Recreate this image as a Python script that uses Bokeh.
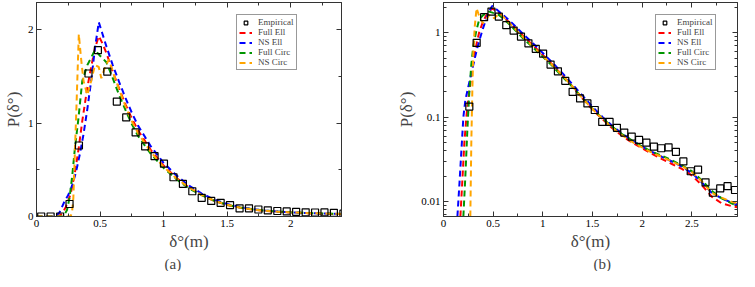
from bokeh.plotting import figure
from bokeh.layouts import row
from bokeh.models import (ColumnDataSource, Range1d, LinearAxis, LogAxis, Legend, LegendItem,
                          SingleIntervalTicker, FixedTicker, NumeralTickFormatter,
                          CustomJSTickFormatter)
from bokeh.embed import file_html
from bokeh.resources import INLINE

# ---------------- data ----------------
emp_x = [0.037, 0.111, 0.186, 0.260, 0.334, 0.409, 0.483, 0.557, 0.632, 0.706,
         0.780, 0.855, 0.929, 1.003, 1.078, 1.152, 1.226, 1.300, 1.375, 1.449,
         1.523, 1.598, 1.672, 1.746, 1.820, 1.895, 1.969, 2.043, 2.118, 2.192,
         2.266, 2.340, 2.415, 2.489, 2.563, 2.638, 2.712, 2.786, 2.860, 2.935]
emp_y = [0, 0, 0, 0.134, 0.76, 1.53, 1.78, 1.55, 1.23, 1.06,
         0.90, 0.75, 0.645, 0.565, 0.42, 0.35, 0.27, 0.20, 0.167, 0.146,
         0.122, 0.088, 0.088, 0.075, 0.066, 0.059, 0.054, 0.050, 0.045, 0.043,
         0.044, 0.039, 0.030, 0.023, 0.024, 0.017, 0.0128, 0.0144, 0.0153, 0.0138]

tail_x = [1.10, 1.20, 1.30, 1.40, 1.50, 1.60, 1.70, 1.80, 1.90, 2.00,
          2.10, 2.20, 2.30, 2.40, 2.50, 2.60, 2.70, 2.80, 2.90, 2.96]

full_ell_x = [0.0, 0.13, 0.17, 0.19, 0.21, 0.23, 0.25, 0.27, 0.30, 0.333, 0.36, 0.40, 0.43,
              0.46, 0.49, 0.52, 0.55, 0.60, 0.65, 0.70, 0.75, 0.80, 0.90, 1.00] + tail_x
full_ell_y = [0, 0, 0.0067, 0.018, 0.05, 0.10, 0.17, 0.25, 0.45, 0.74, 1.02, 1.38, 1.60,
              1.80, 1.93, 1.85, 1.75, 1.55, 1.37, 1.20, 1.05, 0.92, 0.71, 0.545,
              0.415, 0.31, 0.23, 0.166, 0.123, 0.095, 0.074, 0.060, 0.050, 0.043,
              0.037, 0.032, 0.028, 0.0245, 0.0205, 0.0158, 0.0115, 0.0096, 0.0089, 0.0086]

ns_ell_x = [0.0, 0.10, 0.14, 0.16, 0.18, 0.20, 0.22, 0.25, 0.28, 0.31, 0.34, 0.37, 0.40,
            0.43, 0.46, 0.49, 0.52, 0.55, 0.60, 0.65, 0.70, 0.75, 0.80, 0.90, 1.00] + tail_x
ns_ell_y = [0, 0, 0.0067, 0.016, 0.04, 0.10, 0.16, 0.23, 0.33, 0.47, 0.66, 0.88, 1.15,
            1.45, 1.80, 2.08, 1.95, 1.82, 1.62, 1.44, 1.27, 1.11, 0.97, 0.75, 0.575,
            0.44, 0.33, 0.245, 0.18, 0.133, 0.101, 0.079, 0.064, 0.053, 0.045,
            0.039, 0.034, 0.030, 0.026, 0.022, 0.017, 0.0128, 0.011, 0.0098, 0.0093]

full_circ_x = [0.0, 0.16, 0.20, 0.22, 0.24, 0.26, 0.28, 0.30, 0.33, 0.36, 0.40, 0.43,
               0.46, 0.50, 0.55, 0.60, 0.65, 0.70, 0.75, 0.80, 0.90, 1.00] + tail_x
full_circ_y = [0, 0, 0.0067, 0.02, 0.07, 0.20, 0.42, 0.70, 1.05, 1.45, 1.62, 1.70,
               1.78, 1.72, 1.65, 1.48, 1.30, 1.14, 0.99, 0.86, 0.67, 0.52,
               0.40, 0.30, 0.228, 0.168, 0.126, 0.097, 0.077, 0.063, 0.053, 0.045,
               0.039, 0.035, 0.031, 0.027, 0.023, 0.018, 0.0135, 0.011, 0.0096, 0.0090]

ns_circ_x = [0.0, 0.25, 0.27, 0.28, 0.29, 0.30, 0.315, 0.333, 0.35, 0.37, 0.40, 0.43,
             0.46, 0.49, 0.51, 0.54, 0.57, 0.60, 0.65, 0.70, 0.75, 0.80, 0.90, 1.00] + tail_x
ns_circ_y = [0, 0, 0.0067, 0.05, 0.20, 0.60, 1.20, 1.95, 1.70, 1.45, 1.30, 1.45,
             1.62, 1.60, 1.48, 1.60, 1.68, 1.55, 1.36, 1.18, 1.02, 0.89, 0.69, 0.53,
             0.41, 0.31, 0.23, 0.168, 0.125, 0.096, 0.075, 0.061, 0.051, 0.044,
             0.038, 0.034, 0.030, 0.0265, 0.0225, 0.0175, 0.0128, 0.0112, 0.0100, 0.0096]

series = [("Full Ell", full_ell_x, full_ell_y, "#ff0000"),
          ("NS Ell", ns_ell_x, ns_ell_y, "#0000ff"),
          ("Full Circ", full_circ_x, full_circ_y, "#009600"),
          ("NS Circ", ns_circ_x, ns_circ_y, "#ffa500")]

FONT = "Liberation Serif"
AX = "#333333"
BLANK = CustomJSTickFormatter(code="return ''")


def style_axis(ax, labels=True):
    ax.axis_line_color = AX
    ax.major_tick_line_color = AX
    ax.minor_tick_line_color = AX
    ax.major_tick_in = 5
    ax.major_tick_out = 0
    ax.minor_tick_in = 3
    ax.minor_tick_out = 0
    ax.major_label_text_font = FONT
    ax.major_label_text_color = "black"
    ax.major_label_text_font_size = "11px"
    if labels:
        ax.major_label_standoff = 3
    else:
        ax.formatter = BLANK
        ax.major_label_standoff = 0
    ax.axis_label_text_font = FONT
    ax.axis_label_text_font_size = "17px"
    ax.axis_label_text_font_style = "normal"
    ax.axis_label_standoff = 2


def make_panel(caption, width, xr, yr, log, border_left, border_right, legend_loc, caption_offset):
    p = figure(width=width, height=271, output_backend="svg", toolbar_location=None,
               x_range=Range1d(*xr), y_range=Range1d(*yr),
               y_axis_type="log" if log else "linear",
               title=caption, title_location="below",
               min_border_left=border_left, min_border_right=border_right,
               min_border_top=2, min_border_bottom=0)
    p.title.align = "left"
    p.title.text_font = FONT
    p.title.text_font_size = "15px"
    p.title.text_font_style = "normal"
    p.title.offset = caption_offset
    p.title.standoff = 0
    p.title.vertical_align = "bottom"
    p.xgrid.grid_line_color = None
    p.ygrid.grid_line_color = None
    p.outline_line_color = AX
    p.background_fill_color = "white"
    p.border_fill_color = "white"

    xt = SingleIntervalTicker(interval=0.5, num_minor_ticks=2)
    if log:
        yt = FixedTicker(ticks=[0.01, 0.1, 1.0],
                         minor_ticks=[0.007, 0.008, 0.009, 0.02, 0.03, 0.04, 0.05, 0.06, 0.07, 0.08, 0.09,
                                      0.2, 0.3, 0.4, 0.5, 0.6, 0.7, 0.8, 0.9, 2.0])
    else:
        yt = SingleIntervalTicker(interval=1.0, num_minor_ticks=2)

    p.xaxis.ticker = xt
    p.yaxis.ticker = yt
    p.xaxis.formatter = NumeralTickFormatter(format="0.[0]")
    p.yaxis.formatter = NumeralTickFormatter(format="0.[00]")
    p.xaxis.axis_label = "δ°(m)"
    p.yaxis.axis_label = "P(δ°)"
    style_axis(p.xaxis[0])
    style_axis(p.yaxis[0])

    top = LinearAxis(ticker=xt)
    style_axis(top, labels=False)
    p.add_layout(top, "above")
    right = LogAxis(ticker=yt) if log else LinearAxis(ticker=yt)
    style_axis(right, labels=False)
    p.add_layout(right, "right")

    items = []
    rends = []
    for name, xs, ys, col in series:
        pts = [(a, b) for a, b in zip(xs, ys) if (b > 0 or not log)]
        src = ColumnDataSource(dict(x=[q[0] for q in pts], y=[q[1] for q in pts]))
        r = p.line("x", "y", source=src, line_color=col, line_width=2, line_dash="6 4")
        rends.append((name, r))
    epts = [(a, b) for a, b in zip(emp_x, emp_y) if (b > 0 or not log)]
    esrc = ColumnDataSource(dict(x=[q[0] for q in epts], y=[q[1] for q in epts]))
    sq = p.scatter("x", "y", source=esrc, marker="square", size=7, fill_color=None,
                   line_color="black", line_width=1.2)
    items.append(LegendItem(label="Empirical", renderers=[sq]))
    for name, r in rends:
        items.append(LegendItem(label=name, renderers=[r]))
    leg = Legend(items=items, location=legend_loc, orientation="vertical")
    leg.border_line_color = "#333333"
    leg.border_line_width = 1
    leg.background_fill_color = "white"
    leg.background_fill_alpha = 1
    leg.label_text_font = FONT
    leg.label_text_font_size = "9px"
    leg.label_height = 9
    leg.glyph_height = 9
    leg.glyph_width = 13
    leg.label_standoff = 6
    leg.spacing = 0
    leg.padding = 2
    leg.margin = 0
    p.add_layout(leg)
    return p


pa = make_panel("(a)", 380, (0, 2.4), (0, 2.29), False, 28, 39, (200, 146), 128)
pb = make_panel("(b)", 359, (0, 2.96), (0.0067, 2.28), True, 63, 2, (212, 146), 150)

layout = row(pa, pb)
open("out.html", "w").write(file_html(layout, INLINE))
